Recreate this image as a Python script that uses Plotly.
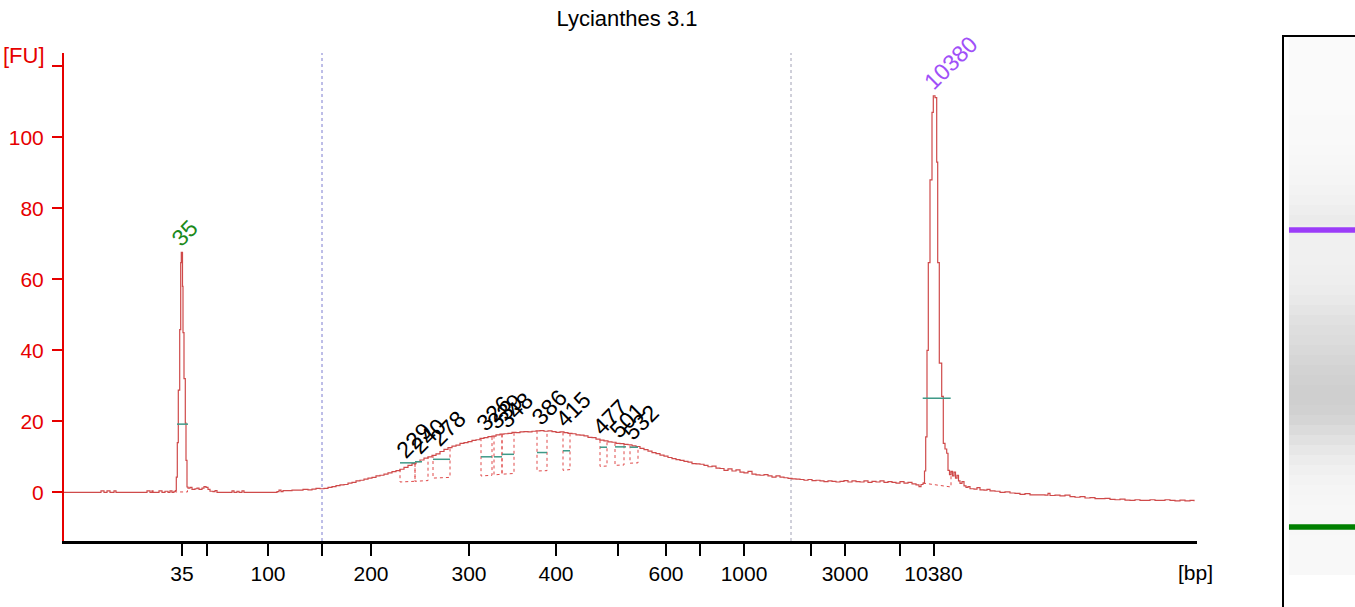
import numpy as np
import plotly.graph_objects as go

# ---------------- data ----------------
title_text = "Lycianthes 3.1"

# electropherogram trace: migration position (axis units) and fluorescence [FU]
trace_pos = [64, 100, 101, 103, 104, 106, 107, 109, 110, 113, 114, 116, 126, 146, 147, 149, 150, 152, 153, 158,
             159, 161, 162, 165, 167, 168, 170, 172, 174, 175.5,
             176.3, 177.3, 178.3, 179.7, 180.7, 181.3, 182, 182.5, 183, 184, 185.3, 186, 187, 188, 190, 192, 195,
             197, 199, 202, 204, 206, 208, 210, 213, 215, 217, 230, 232, 234, 237, 239, 242, 244, 250, 255, 265,
             275, 277, 279, 281, 283, 287, 292, 297, 303, 308, 312, 316, 320, 324, 328, 332, 336, 340, 344, 348,
             352, 356, 360, 364, 368, 372, 376, 380, 384, 388, 392, 396, 400, 404, 408, 412, 416, 420, 424, 428,
             432, 436, 440, 444, 448, 452, 456, 460, 464, 468, 472, 476, 480, 484, 488, 492, 496, 500, 504, 508,
             512, 516, 520, 524, 528, 532, 536, 540, 544, 548, 552, 556, 560, 564, 568, 572, 576, 580, 584, 588,
             592, 596, 600, 604, 608, 612, 616, 620, 624, 628, 632, 636, 640, 644, 648, 652, 656, 660, 664, 668,
             672, 676, 680, 684, 688, 692, 696, 700, 704, 708, 712, 716, 720, 724, 728, 732, 736, 740, 744, 748,
             752, 756, 760, 764, 768, 772, 776, 780, 784, 788, 792, 796, 800, 804, 808, 812, 816, 820, 824, 828,
             832, 836, 840, 844, 848, 852, 856, 860, 864, 868, 872, 876, 880, 884, 888, 892, 896, 900, 904, 908,
             912, 916, 919, 921, 923, 924.5, 925.7, 927, 928.3, 930, 932, 933.3, 935, 936.7, 937.7, 939.3, 941.7,
             943.3, 945, 946.7, 948, 949.5, 951, 952.5, 954, 955.5, 957, 958.5, 960, 962, 964, 966, 968, 970, 974,
             977, 980, 984, 987, 990, 995, 1000, 1005, 1010, 1015, 1020, 1025, 1030, 1035, 1040, 1045, 1048, 1050,
             1055, 1060, 1065, 1070, 1075, 1080, 1085, 1090, 1095, 1100, 1105, 1110, 1115, 1120, 1125, 1130, 1135,
             1140, 1145, 1150, 1155, 1160, 1165, 1170, 1175, 1180, 1185, 1190, 1194]
trace_fu = [0, 0, 0.4, 0.4, 0, 0, 0.4, 0.4, 0, 0, 0.4, 0, 0, 0, 0.4, 0.4, 0, 0.4, 0, 0,
            0.4, 0.4, 0, 0.3, 0.3, 0, 0.4, 0, 0.3, 0.5,
            4.3, 14, 28.8, 45.8, 64.7, 67.6, 67.6, 58, 45, 32, 19.5, 9, 1.5, 1.2, 1.4, 0.8, 1.0,
            1.2, 0.8, 1.2, 1.6, 1.4, 0.8, 0.3, 0.2, 0.5, 0, 0, 0.4, 0, 0.3, 0, 0.4, 0, 0, 0, 0,
            0, 0.2, 0.6, 0.2, 0.5, 0.5, 0.6, 0.6, 0.8, 0.7, 0.9, 1.1, 1.0, 1.1, 1.4, 1.6, 1.9, 2.1, 2.2, 2.6,
            2.8, 3.2, 3.4, 3.7, 4.0, 4.2, 4.6, 4.8, 5.1, 5.5, 5.8, 6.1, 6.5, 7.0, 7.6, 8.1, 8.6, 9.1, 9.6, 10.0,
            10.4, 10.8, 11.5, 12.1, 12.6, 13.0, 13.3, 13.8, 14.0, 14.3, 14.6, 14.8, 15.2, 15.4, 15.7, 15.8, 16.2, 16.4, 16.5, 16.6,
            16.9, 16.8, 17.0, 17.1, 17.0, 17.2, 17.3, 17.4, 17.2, 17.3, 17.1, 16.9, 17.0, 16.8, 16.6, 16.5, 16.2, 16.1, 15.9, 15.5,
            15.4, 15.0, 14.7, 14.5, 14.2, 14.1, 13.8, 13.7, 13.5, 13.4, 13.1, 12.9, 12.4, 12.0, 11.6, 11.2, 10.9, 10.5, 10.2, 9.8,
            9.5, 9.2, 9.0, 8.7, 8.5, 8.1, 8.0, 7.9, 7.6, 7.2, 7.4, 6.8, 6.7, 6.2, 6.6, 6.0, 6.3, 5.7, 5.5, 5.9,
            5.1, 4.9, 4.8, 5.0, 4.6, 4.3, 4.6, 4.3, 4.1, 3.9, 3.8, 3.7, 3.6, 3.4, 3.6, 3.3, 3.4, 3.2, 3.0, 3.2,
            3.1, 2.9, 3.1, 3.3, 2.9, 3.2, 3.0, 2.9, 3.2, 2.8, 3.1, 2.9, 3.2, 2.8, 3.0, 2.8, 2.6, 3.0, 2.6, 2.8,
            2.4, 2.1, 1.6, 2.2, 2.6, 6, 15.6, 40, 64.7, 88, 107, 111.7, 111.2, 93, 64.7, 36.4, 27,
            13.8, 12.2, 11, 6.2, 5.0, 5.9, 4.6, 5.7, 4.0, 4.8, 3.2, 2.5, 3.0, 1.8, 1.4, 1.6, 1.0, 0.9,
            1.3, 0.7, 0.6, 0.8, 0.4, 0.3, 0.0, 0.1, -0.2, -0.3, -0.6, -0.4, -0.7, -0.7, -0.7, -0.8, -0.3, -0.9,
            -0.8, -1.0, -0.8, -1.2, -1.4, -1.2, -1.6, -1.5, -1.8, -1.8, -1.7, -2.0, -2.1, -1.9, -2.2, -2.3, -2.1,
            -2.3, -2.3, -2.1, -2.3, -2.3, -2.1, -2.3, -2.4, -2.2, -2.4, -2.3, -2.5]

# x axis (bp) ticks at their migration positions
bp_tick_pos = [182, 206.5, 268, 321.5, 371, 469, 556, 618, 666, 700, 744, 811, 845, 900, 933.5]
bp_tick_text = ["35", "", "100", "", "200", "300", "400", "", "600", "", "1000", "", "3000", "", "10380"]

fu_tick_vals = [0, 20, 40, 60, 80, 100, 120]
fu_tick_text = ["0", "20", "40", "60", "80", "100", ""]

# peaks: label, position, height [FU]
peak_labels = ["35", "229", "240", "278", "326", "339", "348", "386", "415", "477", "501", "532", "10380"]
peak_pos = [181.5, 407, 421, 441, 487, 498, 508, 542, 566, 603, 620, 634, 934]
peak_fu = [67.6, 8.0, 9.3, 11.4, 15.6, 16.2, 16.6, 17.4, 16.8, 14.6, 13.7, 13.1, 111.7]
peak_kind = ["lower", "smear", "smear", "smear", "smear", "smear", "smear", "smear", "smear",
             "smear", "smear", "smear", "upper"]

# integration windows of each peak
win_start = [175.5, 400, 415, 433, 481, 494, 502, 537, 563, 600, 615, 630, 923]
win_end = [187.5, 415, 428, 450, 492, 502, 514, 547, 570, 607, 624, 638, 951]
win_base_left = [0.1, 2.9, 3.1, 4.0, 4.6, 4.9, 5.1, 6.0, 6.2, 7.3, 7.6, 8.2, 2.6]
win_base_right = [0.1, 3.1, 3.3, 4.2, 4.8, 5.1, 5.3, 6.1, 6.4, 7.4, 7.7, 8.3, 1.5]

# half-height markers
mark_start = [177, 400, 415, 433, 481, 494, 502, 537, 563, 600, 615, 630, 922.7]
mark_end = [188, 415, 422, 450, 492, 502, 514, 547, 570, 607, 626, 638, 950.7]
mark_fu = [19.2, 8.3, 8.6, 9.3, 10.0, 10.0, 10.7, 11.2, 11.7, 12.7, 12.8, 12.7, 26.5]

# region boundaries (dotted verticals)
region_bounds = [322, 791]
region_colors = ["#7c7cd0", "#a0a0b4"]

# gel image: row position (px) and grey level
gel_rows = [40, 50, 60, 70, 80, 90, 100, 110, 120, 130, 140, 150, 160, 170, 180, 190, 200, 210, 220, 230,
            240, 250, 260, 270, 280, 290, 300, 310, 320, 330, 340, 350, 360, 370, 380, 390, 400, 410, 420,
            430, 440, 450, 460, 470, 480, 490, 500, 510, 520, 530, 540, 550, 560, 570, 580, 590, 600]
gel_grey = [250, 250, 250, 250, 250, 250, 250, 250, 249, 249, 249, 248, 247, 246, 245, 243, 241, 238, 235, 238,
            240, 240, 240, 239, 238, 236, 233, 229, 225, 222, 220, 217, 214, 211, 209, 207, 207, 209, 213,
            219, 225, 231, 236, 240, 243, 245, 246, 247, 247, 247, 248, 248, 248, 248, 255, 255, 255]
gel_bands = [230, 527]
gel_band_colors = ["#9b3cf8", "#008000"]

# ---------------- figure ----------------
W, H = 1355, 607
FONT = "Liberation Sans"
RED = "#e60000"
TRACE = "#cf4a4a"

# geometry (pixels)
px_left, px_right = 64, 1197
py_top, py_bottom = 53, 541
fu_per_px = 1 / 3.55
y_lo = -(py_bottom - 492.3) * fu_per_px
y_hi = (492.3 - py_top) * fu_per_px

fig = go.Figure()

# dotted region boundaries
for xb, col in zip(region_bounds, region_colors):
    fig.add_trace(go.Scatter(x=[xb, xb], y=[y_lo, y_hi], mode="lines",
                             line=dict(color=col, width=1, dash="dot"), hoverinfo="skip", showlegend=False))

# integration windows (dashed)
tp = np.array(trace_pos, dtype=float)
tf = np.array(trace_fu, dtype=float)
wx, wy = [], []
for x0, x1, b0, b1 in zip(win_start, win_end, win_base_left, win_base_right):
    wx += [x0, x0, x1, x1, None]
    wy += [float(np.interp(x0, tp, tf)), b0, b1, float(np.interp(x1, tp, tf)), None]
fig.add_trace(go.Scatter(x=wx, y=wy, mode="lines", line=dict(color="#e04a4a", width=1, dash="dot"),
                         hoverinfo="skip", showlegend=False))

# trace
fig.add_trace(go.Scatter(x=trace_pos, y=trace_fu, mode="lines", line=dict(color=TRACE, width=1.2, shape="hv"),
                         hoverinfo="skip", showlegend=False))

# half-height markers
mx, my = [], []
for x0, x1, v in zip(mark_start, mark_end, mark_fu):
    mx += [x0, x1, None]
    my += [v, v, None]
fig.add_trace(go.Scatter(x=mx, y=my, mode="lines", line=dict(color="#3f9a88", width=1.5),
                         hoverinfo="skip", showlegend=False))

# gel image
fig.add_trace(go.Heatmap(x=[0.57], y=gel_rows, z=[[g] for g in gel_grey], xaxis="x2", yaxis="y2",
                         colorscale=[[0, "#000000"], [1, "#ffffff"]], zmin=0, zmax=255,
                         showscale=False, hoverinfo="skip"))
for yb, col in zip(gel_bands, gel_band_colors):
    fig.add_trace(go.Scatter(x=[0.07, 1], y=[yb, yb], mode="lines", xaxis="x2", yaxis="y2",
                             line=dict(color=col, width=5.5), hoverinfo="skip", showlegend=False))

# peak labels
label_colors = {"lower": "#1b8a1b", "upper": "#a050f8", "smear": "#000000"}
annotations = []
for lab, xp, yp, kind in zip(peak_labels, peak_pos, peak_fu, peak_kind):
    annotations.append(dict(x=xp, y=yp, xref="x", yref="y", text=lab, showarrow=False, textangle=-45,
                            xanchor="left", yanchor="bottom", xshift=-18, yshift=-2,
                            font=dict(family=FONT, size=23, color=label_colors[kind])))
annotations.append(dict(x=1195, y=1 - 572 / H, xref="x", yref="paper", text="[bp]", showarrow=False,
                        xanchor="center", yanchor="middle", font=dict(family=FONT, size=21, color="black")))
annotations.append(dict(x=47 / W, y=1 - 55 / H, xref="paper", yref="paper", text="[FU]", showarrow=False,
                        xanchor="right", yanchor="middle", font=dict(family=FONT, size=22, color=RED)))

fig.update_layout(
    width=W, height=H, autosize=False,
    margin=dict(l=0, r=0, t=0, b=0),
    paper_bgcolor="white", plot_bgcolor="white",
    title=dict(text=title_text, x=627 / W, xanchor="center", y=1 - 18 / H, yanchor="middle",
               font=dict(family=FONT, size=22, color="black")),
    xaxis=dict(domain=[px_left / W, px_right / W], range=[px_left, px_right],
               showgrid=False, zeroline=False, showline=True, linecolor="black", linewidth=2.5,
               ticks="outside", ticklen=12, tickwidth=2, tickcolor="black",
               tickvals=bp_tick_pos, ticktext=bp_tick_text,
               tickfont=dict(family=FONT, size=21, color="black"), anchor="y"),
    yaxis=dict(domain=[1 - py_bottom / H, 1 - py_top / H], range=[y_lo, y_hi],
               showgrid=False, zeroline=False, showline=True, linecolor=RED, linewidth=2,
               ticks="outside", ticklen=10, tickwidth=2, tickcolor=RED,
               tickvals=fu_tick_vals, ticktext=fu_tick_text, ticklabelstandoff=4,
               tickfont=dict(family=FONT, size=21, color=RED), anchor="x"),
    xaxis2=dict(domain=[1284 / W, 1], range=[0, 1], anchor="y2", side="top",
                showline=True, linecolor="black", linewidth=2, showticklabels=False, ticks="",
                showgrid=False, zeroline=False),
    yaxis2=dict(domain=[0, 1 - 37 / H], range=[607, 37], anchor="x2",
                showline=True, linecolor="black", linewidth=2, showticklabels=False, ticks="",
                showgrid=False, zeroline=False),
    annotations=annotations,
    showlegend=False,
)

fig.write_html("out.html", config={"displayModeBar": False},
               post_script="document.body.style.margin='0';document.body.style.overflow='hidden';")
